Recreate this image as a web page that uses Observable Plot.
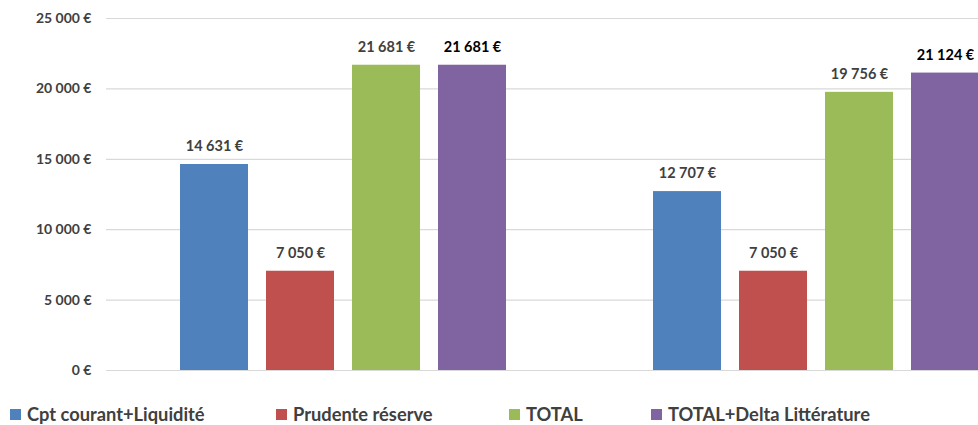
<!DOCTYPE html>
<html>
<head>
<meta charset="utf-8">
<script src="https://cdn.jsdelivr.net/npm/d3@7"></script>
<script src="https://cdn.jsdelivr.net/npm/@observablehq/plot@0.6"></script>
<style>
  html, body { margin: 0; padding: 0; overflow: hidden; background: #fff; }
  #wrap { position: relative; width: 978px; height: 425px; overflow: hidden; font-family: Lato, "Open Sans", sans-serif; }
  #chart { position: absolute; left: -1px; top: 0; width: 1053px; }
  #chart svg { max-width: none !important; }
  .leg { position: absolute; top: 403px; display: flex; align-items: center; font-weight: bold; font-size: 18.3px; color: #404040; white-space: nowrap; }
  .leg span.sw { display: inline-block; width: 11px; height: 11px; margin-right: 6px; }
</style>
</head>
<body>
<div id="wrap"><div id="chart"></div></div>
<script>
const groups = ["Groupe 1", "Groupe 2"];
const series = ["Cpt courant+Liquidité", "Prudente réserve", "TOTAL", "TOTAL+Delta Littérature"];
const valuesGroup1 = [14631, 7050, 21681, 21681];
const valuesGroup2 = [12707, 7050, 19756, 21124];
const colors = ["#4F81BD", "#C0504D", "#9BBB59", "#8064A2"];
const yTicks = [0, 5000, 10000, 15000, 20000, 25000];

const data = [];
series.forEach((s, i) => data.push({group: groups[0], series: s, value: valuesGroup1[i]}));
series.forEach((s, i) => data.push({group: groups[1], series: s, value: valuesGroup2[i]}));

const euro = d => d3.format(",")(d).replace(/,/g, " ") + " €";
const last = series[series.length - 1];

const chart = Plot.plot({
  width: 1053,
  height: 380,
  marginLeft: 107,
  marginRight: 0,
  marginTop: 18,
  marginBottom: 10,
  style: {fontFamily: "Lato, 'Open Sans', sans-serif", fontWeight: "bold", fontSize: "14px", color: "#404040", background: "transparent", maxWidth: "none"},
  fx: {domain: groups, padding: 0, axis: null},
  x: {domain: series, paddingInner: 0.21, paddingOuter: 0.85, axis: null},
  y: {domain: [0, 25000]},
  color: {domain: series, range: colors},
  marks: [
    Plot.gridY(yTicks, {stroke: "#d9d9d9", strokeOpacity: 1, strokeWidth: 1.2}),
    Plot.axisY(yTicks, {tickSize: 0, tickPadding: 15, tickFormat: euro, label: null, fontSize: 14, fontWeight: "bold"}),
    Plot.barY(data, {fx: "group", x: "series", y: "value", fill: "series"}),
    Plot.text(data.filter(d => d.series !== last), {fx: "group", x: "series", y: "value", text: d => euro(d.value), dy: -18, fill: "#404040", fontSize: 14.5, fontWeight: "bold"}),
    Plot.text(data.filter(d => d.series === last), {fx: "group", x: "series", y: "value", text: d => euro(d.value), dy: -18, fill: "#000", fontSize: 14.5, fontWeight: "bold"})
  ]
});
document.getElementById("chart").appendChild(chart);

const legendLeft = [10, 276, 509, 651];
const wrap = document.getElementById("wrap");
series.forEach((s, i) => {
  const d = document.createElement("div");
  d.className = "leg";
  d.style.left = legendLeft[i] + "px";
  const sw = document.createElement("span");
  sw.className = "sw";
  sw.style.background = colors[i];
  d.appendChild(sw);
  d.appendChild(document.createTextNode(s));
  wrap.appendChild(d);
});
</script>
</body>
</html>
